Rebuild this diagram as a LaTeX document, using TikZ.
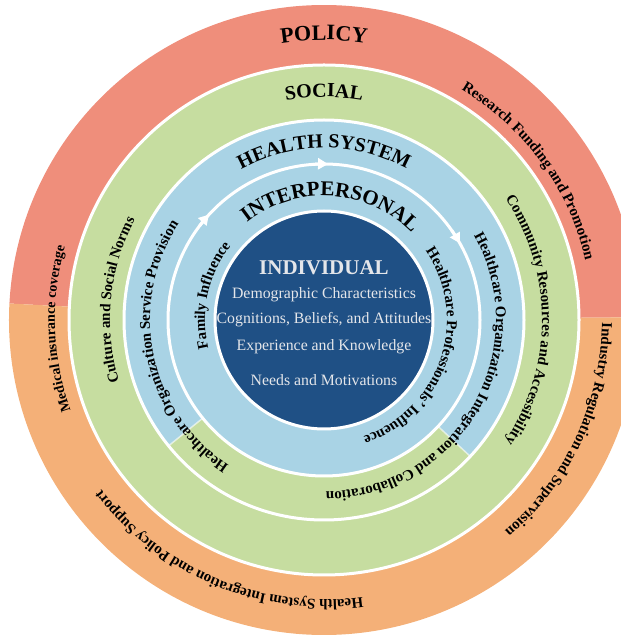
\documentclass[tikz,border=0pt]{standalone}
\usepackage{fontspec}
\setmainfont{Liberation Serif}
\usetikzlibrary{decorations.text,arrows.meta}

\definecolor{policyred}{HTML}{EF8E7B}
\definecolor{policyorange}{HTML}{F4B078}
\definecolor{socialgreen}{HTML}{C6DDA0}
\definecolor{healthblue}{HTML}{A9D3E5}
\definecolor{indivblue}{HTML}{1F5085}
\definecolor{indivtext}{HTML}{E4E6EA}

% text set along a clockwise arc around (C), tops of the letters outward
% #1 centre angle, #2 half span, #3 baseline radius, #4 font, #5 text
\newcommand\ringlabel[5]{%
  \path[decorate,decoration={text along path,text align=center,
      text={|#4|#5}}]
    ([shift={({#1+#2}:#3)}]C) arc[start angle={#1+#2},end angle={#1-#2},radius=#3];}

\newcommand\bigfont{\bfseries\fontsize{20pt}{20pt}\selectfont}
\newcommand\sidefont{\bfseries\fontsize{15pt}{15pt}\selectfont}

\begin{document}
\begin{tikzpicture}[x=1pt,y=1pt,
  sep/.style={white,line width=3pt},
  edge/.style={white,opacity=0.6,line width=1.5pt},
  flow/.style={white,line width=3pt,-{Triangle[length=10pt,width=11pt]}},
  inner/.style={text=indivtext,font=\fontsize{15.8pt}{15.8pt}\selectfont}]
\useasboundingbox (0,0) rectangle (621,635);
\clip (0,0) rectangle (621,635);
\coordinate (C) at (324,315);

% policy ring: upper and lower halves
\fill[policyred] (C) -- ([shift={(0.5:315pt)}]C) arc[start angle=0.5,end angle=177,radius=315pt] -- cycle;
\fill[policyorange] (C) -- ([shift={(177:315pt)}]C) arc[start angle=177,end angle=360.5,radius=315pt] -- cycle;
% social ring
\fill[socialgreen] (C) circle[radius=255pt];
% health system ring with its green lower sector
\fill[healthblue] (C) circle[radius=200pt];
\fill[socialgreen] ([shift={(219:200pt)}]C) arc[start angle=219,end angle=317,radius=200pt]
  -- ([shift={(317:156pt)}]C) arc[start angle=317,end angle=219,radius=156pt] -- cycle;
\draw[edge] ([shift={(219:157pt)}]C) -- ([shift={(219:199pt)}]C);
\draw[edge] ([shift={(317:157pt)}]C) -- ([shift={(317:199pt)}]C);

% separators
\draw[sep] (C) circle[radius=255pt];
\draw[sep] (C) circle[radius=200pt];
\draw[sep] (C) circle[radius=156pt];

% individual disc
\fill[indivblue] (C) circle[radius=109pt];
\draw[sep] (C) circle[radius=109pt];

% arrowheads on the interpersonal ring
\draw[flow] ([shift={(94:156pt)}]C) arc[start angle=94,end angle=88.5,radius=156pt];
\draw[flow] ([shift={(143:156pt)}]C) arc[start angle=143,end angle=137.5,radius=156pt];
\draw[flow] ([shift={(35:156pt)}]C) arc[start angle=35,end angle=29.5,radius=156pt];

% ring titles
\ringlabel{90}{60}{280pt}{\bfseries\fontsize{22pt}{22pt}\selectfont}{POLICY}
\ringlabel{90}{60}{223pt}{\bigfont}{SOCIAL}
\ringlabel{90}{70}{172pt}{\bigfont}{HEALTH SYSTEM}
\ringlabel{86.6}{80}{124pt}{\bfseries\fontsize{21pt}{21pt}\selectfont}{INTERPERSONAL}

% policy factors
\ringlabel{36}{60}{268pt}{\sidefont}{Research Funding and Promotion}
\ringlabel{182}{60}{269pt}{\bfseries\fontsize{14pt}{14pt}\selectfont}{Medical insurance coverage}
\ringlabel{-25}{60}{278pt}{\sidefont}{Industry Regulation and Supervision}
\ringlabel{247.6}{70}{280pt}{\sidefont}{Health System Integration and Policy Support}

% social factors
\ringlabel{174.4}{60}{214pt}{\sidefont}{Culture and Social Norms}
\ringlabel{0}{70}{218pt}{\sidefont}{Community Resources and Accessibility}

% health system factors
\ringlabel{191.7}{80}{174pt}{\sidefont}{Healthcare Organization Service Provision}
\ringlabel{-30}{90}{172pt}{\sidefont}{Healthcare Organization Integration and Collaboration}

% interpersonal factors
\ringlabel{167.6}{70}{119pt}{\sidefont}{Family Influence}
\ringlabel{-18.5}{85}{123pt}{\sidefont}{Healthcare Professionals’ Influence}

% individual factors
\node[inner,font=\bfseries\fontsize{21pt}{21pt}\selectfont] (indiv) at (324,367) {INDIVIDUAL};
\node[inner] (demo) at (324,340) {Demographic Characteristics};
\node[inner] (cogn) at (324,315) {Cognitions, Beliefs, and Attitudes};
\node[inner] (expe) at (324,288) {Experience and Knowledge};
\node[inner] (need) at (324,255) {Needs and Motivations};
\end{tikzpicture}
\end{document}
